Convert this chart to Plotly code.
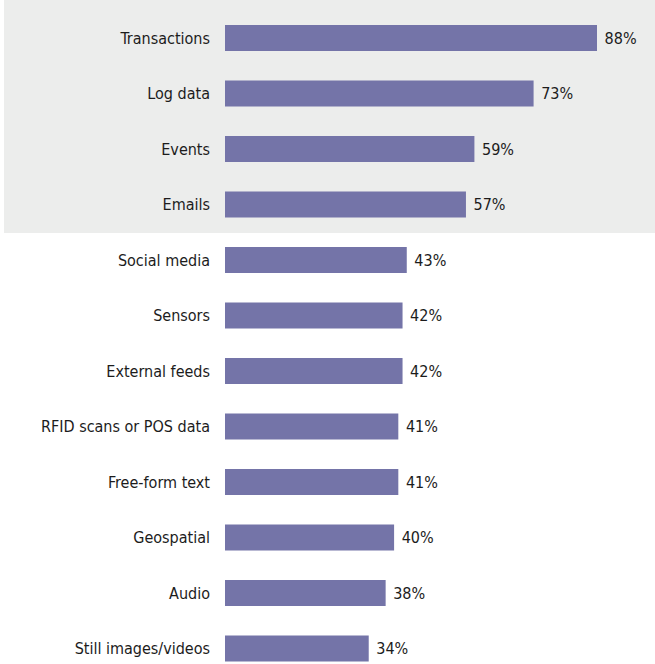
import plotly.graph_objects as go

categories = ["Transactions", "Log data", "Events", "Emails", "Social media", "Sensors",
              "External feeds", "RFID scans or POS data", "Free-form text", "Geospatial",
              "Audio", "Still images/videos"]
values = [88, 73, 59, 57, 43, 42, 42, 41, 41, 40, 38, 34]
labels = [f"{v}%" for v in values]

W, H = 655, 664
L = 225
pxu = (597 - 225) / 88.0
xmax = (W - L) / pxu
row = 55.5
r0 = -38 / row
r1 = H / row + r0

font = "DejaVu Sans Condensed, Liberation Sans Narrow, Arial Narrow, sans-serif"

fig = go.Figure(go.Bar(
    x=values, y=list(range(len(categories))), orientation="h",
    marker=dict(color="#7474A8", line=dict(width=0)),
    width=26 / row,
    text=labels, texttemplate=" %{text}", textposition="outside", cliponaxis=False,
    textfont=dict(family=font, size=16, color="#1c1c1c"),
    hoverinfo="skip",
))

fig.add_shape(type="rect", xref="paper", yref="y",
              x0=(4 - L) / (W - L), x1=1.0, y0=r0, y1=233 / row + r0,
              fillcolor="#ECEDEC", line=dict(width=0), layer="below")

fig.update_layout(
    width=W, height=H,
    margin=dict(l=L, r=0, t=0, b=0),
    paper_bgcolor="white", plot_bgcolor="rgba(0,0,0,0)",
    showlegend=False,
    xaxis=dict(range=[0, xmax], visible=False, fixedrange=True),
    yaxis=dict(range=[r1, r0], tickmode="array", tickvals=list(range(len(categories))),
               ticktext=categories, showgrid=False, zeroline=False, showline=False,
               ticks="", ticklabelstandoff=14, fixedrange=True,
               tickfont=dict(family=font, size=16, color="#1c1c1c")),
)

fig.write_html("out.html", config={"displayModeBar": False},
               post_script="document.body.style.margin='0';document.body.style.overflow='hidden';")
